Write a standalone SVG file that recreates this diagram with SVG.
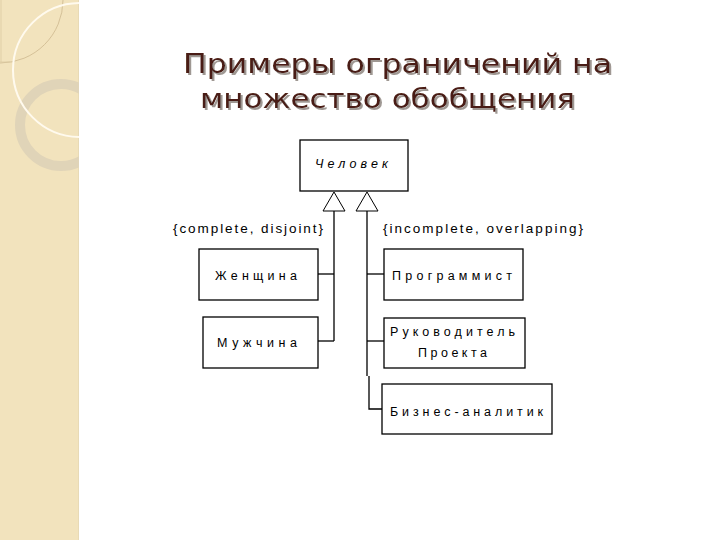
<svg xmlns="http://www.w3.org/2000/svg" width="720" height="540" viewBox="0 0 720 540">
  <defs>
    <style>
      .box { fill: #ffffff; stroke: #000000; stroke-width: 1.3; }
      .conn { fill: none; stroke: #000000; stroke-width: 1.3; }
      .tri { fill: #ffffff; stroke: #000000; stroke-width: 1; }
      .lbl { font-family: "Liberation Sans", Arial, sans-serif; font-size: 12.5px; fill: #000000; }
      .cons { font-family: "Liberation Sans", Arial, sans-serif; font-size: 13.5px; fill: #000000; }
      .title { font-family: "DejaVu Sans", Verdana, sans-serif; font-size: 27px; fill: #4a1c12; filter: url(#shadow); }
    </style>
    <filter id="shadow" x="-5%" y="-20%" width="110%" height="150%">
      <feOffset in="SourceAlpha" dx="1.5" dy="1.5" result="off"/>
      <feFlood flood-color="#9f9893"/>
      <feComposite in2="off" operator="in" result="sh"/>
      <feMerge>
        <feMergeNode in="sh"/>
        <feMergeNode in="SourceGraphic"/>
      </feMerge>
    </filter>
    <clipPath id="side">
      <rect x="0" y="0" width="79" height="540"/>
    </clipPath>
  </defs>

  <rect x="0" y="0" width="720" height="540" fill="#ffffff"/>

  <!-- sidebar -->
  <g id="sidebar" clip-path="url(#side)">
    <rect x="0" y="0" width="79" height="540" fill="#f2e3bd"/>
    <line x1="78.5" y1="0" x2="78.5" y2="540" stroke="#e8dab6" stroke-width="1"/>
    <path d="M63,0 A63,63 0 0 1 0,63" fill="none" stroke="#cdb88e" stroke-width="0.8"/>
    <line x1="1" y1="0" x2="1" y2="62" stroke="#dccaa2" stroke-width="0.8"/>
    <line x1="0" y1="62" x2="10" y2="62" stroke="#dccaa2" stroke-width="0.8"/>
    <circle cx="61" cy="125" r="41" fill="none" stroke="#e0d4b8" stroke-width="10"/>
    <circle cx="80" cy="70" r="67" fill="none" stroke="#fffaee" stroke-width="2"/>
  </g>

  <!-- title -->
  <g id="title">
    <text class="title" x="183" y="73" textLength="429" lengthAdjust="spacingAndGlyphs">Примеры ограничений на</text>
    <text class="title" x="200" y="108" textLength="375" lengthAdjust="spacingAndGlyphs">множество обобщения</text>
  </g>

  <!-- connectors -->
  <g id="connectors">
    <line class="conn" x1="334" y1="211" x2="334" y2="341"/>
    <line class="conn" x1="318" y1="274" x2="334" y2="274"/>
    <line class="conn" x1="318" y1="341" x2="334" y2="341"/>
    <polyline class="conn" points="367,211 367,376"/>
    <polyline class="conn" points="369,376 369,409 382,409"/>
    <line class="conn" x1="367" y1="274" x2="384" y2="274"/>
    <line class="conn" x1="367" y1="341" x2="384" y2="341"/>
    <polygon class="tri" points="334,192 323,211 345,211"/>
    <polygon class="tri" points="367,192 356,211 378,211"/>
  </g>

  <!-- constraint labels -->
  <g id="constraints">
    <text class="cons" x="173" y="233" textLength="150" lengthAdjust="spacing">{complete, disjoint}</text>
    <text class="cons" x="383" y="233" textLength="200" lengthAdjust="spacing">{incomplete, overlapping}</text>
  </g>

  <g id="chelovek">
    <rect class="box" x="300" y="140" width="108" height="51"/>
    <text class="lbl" x="315" y="168" font-style="italic" textLength="73" lengthAdjust="spacing">Человек</text>
  </g>

  <g id="zhenshchina">
    <rect class="box" x="199" y="249" width="119" height="51"/>
    <text class="lbl" x="215" y="280" textLength="82" lengthAdjust="spacing">Женщина</text>
  </g>

  <g id="muzhchina">
    <rect class="box" x="203" y="317" width="115" height="51"/>
    <text class="lbl" x="217" y="347" textLength="80" lengthAdjust="spacing">Мужчина</text>
  </g>

  <g id="programmist">
    <rect class="box" x="384" y="249" width="139" height="51"/>
    <text class="lbl" x="392" y="280" textLength="120" lengthAdjust="spacing">Программист</text>
  </g>

  <g id="rukovoditel">
    <rect class="box" x="384" y="318" width="141" height="50"/>
    <text class="lbl" x="390" y="336" textLength="125" lengthAdjust="spacing">Руководитель</text>
    <text class="lbl" x="418" y="357" textLength="69" lengthAdjust="spacing">Проекта</text>
  </g>

  <g id="biznes-analitik">
    <rect class="box" x="382" y="384" width="170" height="50"/>
    <text class="lbl" x="390" y="416" textLength="153" lengthAdjust="spacing">Бизнес-аналитик</text>
  </g>
</svg>
